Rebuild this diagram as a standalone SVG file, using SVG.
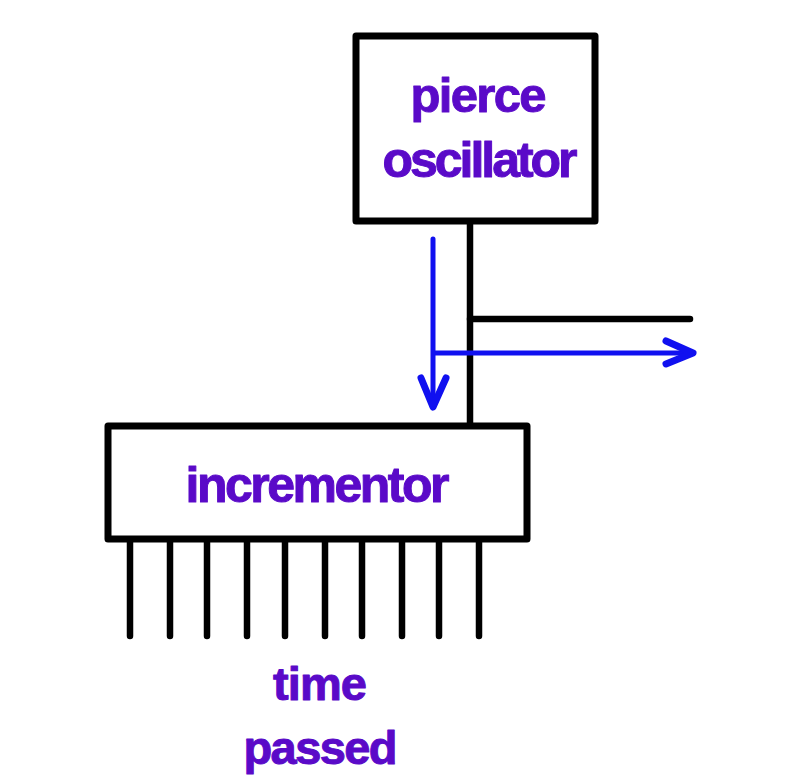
<svg xmlns="http://www.w3.org/2000/svg" width="800" height="780" viewBox="0 0 800 780">
<style>
.box{fill:#fff;stroke:#000;stroke-width:7;stroke-linejoin:round}
.lbl{font-family:"Liberation Sans",Arial,sans-serif;font-weight:bold;fill:#5a0ac8;stroke:#5a0ac8;stroke-width:1;stroke-linejoin:round;text-anchor:middle}
.wire{stroke:#000;stroke-width:6.5;stroke-linecap:round;fill:none}
.sig{stroke:#1010f0;stroke-width:5;stroke-linecap:round;stroke-linejoin:round;fill:none}
.head{stroke:#1010f0;stroke-width:7;stroke-linecap:round;stroke-linejoin:round;fill:none}
</style>
<rect width="800" height="780" fill="#fff"/>
<g id="connectors">
<line class="wire" x1="470" y1="222" x2="470" y2="424"/>
<line class="wire" x1="470" y1="319" x2="690" y2="319"/>
<path class="sig" d="M433 239 V406 M435 353 H692"/>
<path class="head" d="M421 378 L433 407 L446 378"/>
<path class="head" d="M666 341 L693 353 L666 364"/>
</g>
<g id="pierce-oscillator">
<rect class="box" x="356" y="36" width="239" height="185"/>
<text class="lbl" x="478.5" y="112" font-size="49" textLength="136" lengthAdjust="spacing">pierce</text>
<text class="lbl" x="480" y="177" font-size="50" textLength="195" lengthAdjust="spacing">oscillator</text>
</g>
<g id="incrementor">
<rect class="box" x="108" y="426" width="419" height="113"/>
<text class="lbl" x="317.5" y="502" font-size="50" textLength="264" lengthAdjust="spacing">incrementor</text>
</g>
<g id="pins">
<path class="wire" d="M130 542V636M170 542V636M207 542V636M247 542V636M285 542V636M325 542V636M362 542V636M402 542V636M439 542V636M479 542V636"/>
</g>
<g id="time-passed">
<text class="lbl" x="320" y="700" font-size="47" textLength="94" lengthAdjust="spacing">time</text>
<text class="lbl" x="320.5" y="764" font-size="47" textLength="154" lengthAdjust="spacing">passed</text>
</g>
</svg>
